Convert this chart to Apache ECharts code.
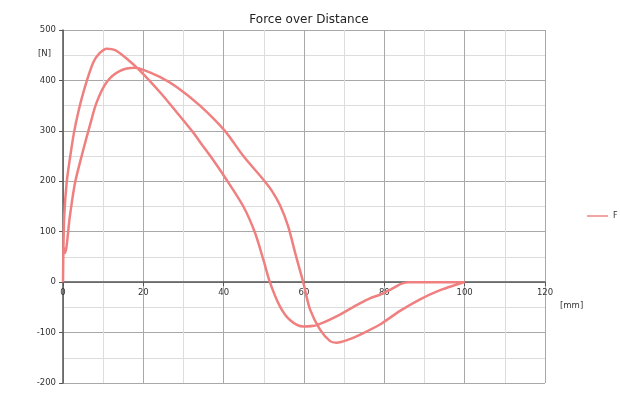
<!DOCTYPE html>
<html>
<head>
<meta charset="utf-8">
<script src="https://cdn.jsdelivr.net/npm/echarts@6/dist/echarts.min.js"></script>
<style>html,body{margin:0;padding:0;background:#fff}#c{width:620px;height:397px}</style>
</head>
<body>
<div id="c"></div>
<script>
// Distance [mm] and Force [N] along the measured loop, in path order
const distance = [0, 0.1, 0.3, 0.9, 1.7, 2.7, 3.8, 5.5, 7.5, 9, 10.9, 13, 15.9, 19.2, 24.1, 28.3, 32.4, 34.1, 36.6, 40.3, 44.9, 47.8, 49.9, 51.5, 54, 56.5, 59.8, 63.2, 68.1, 73.9, 76.4, 78.9, 82.2, 84.3, 86, 90, 95, 100,
  98, 93.9, 88.9, 83.9, 78.9, 74, 71.4, 68.1, 66.5, 64, 61.5, 59.8, 58, 56, 54, 52, 49.9, 44.9, 40.3, 34.1, 28.3, 24.1, 20, 17.9, 14.2, 10.9, 8.4, 6.7, 5.1, 3.0, 1.7, 0.5, 0.2];
const force = [0, 65, 130, 197, 244, 295, 337, 388, 435, 453, 463, 460, 443, 419, 377, 337, 297, 278, 251, 208, 150, 98, 44, 0, -48, -75, -88, -85, -68, -42, -32, -25, -12, -3, 0, 0, 0, 0,
  -5, -16, -34, -57, -84, -104, -113, -120, -117, -94, -54, 0, 52, 112, 153, 181, 203, 250, 300, 350, 387, 407, 421, 425, 419, 397, 357, 311, 264, 197, 130, 58, 68];
const xTicks = { min: 0, max: 120, step: 20 };
const yTicks = { min: -200, max: 500, step: 100 };
const seriesName = 'F';
const titleText = 'Force over Distance';
const xUnit = '[mm]';
const yUnit = '[N]';

const points = distance.map((d, i) => [d, force[i]]);
const gridTop = 30, gridBottom = 14, chartH = 397;
const plotH = chartH - gridTop - gridBottom;
const zeroOffset = -(0 - yTicks.min) / (yTicks.max - yTicks.min) * plotH;

const chart = echarts.init(document.getElementById('c'), null, { renderer: 'canvas' });
const font = 'DejaVu Sans';
chart.setOption({
  animation: false,
  backgroundColor: '#fff',
  textStyle: { fontFamily: font },
  title: {
    text: titleText, left: 304, top: 9, textAlign: 'center',
    textStyle: { fontFamily: font, fontSize: 12, fontWeight: 'normal', color: '#222' }
  },
  legend: {
    data: [{ name: seriesName, icon: 'rect' }], left: 582, top: 207, itemWidth: 21, itemHeight: 2, itemGap: 4,
    itemStyle: { color: '#f4a4a4' },
    textStyle: { fontFamily: font, fontSize: 8, color: '#333' }
  },
  grid: { left: 63, right: 75, top: gridTop, bottom: gridBottom, containLabel: false },
  xAxis: {
    type: 'value', min: xTicks.min, max: xTicks.max, interval: xTicks.step,
    position: 'bottom', offset: zeroOffset,
    axisLine: { show: true, onZero: false, lineStyle: { color: '#555', width: 1.5 } },
    axisTick: { show: true, length: 4, lineStyle: { color: '#555' } },
    axisLabel: { fontFamily: font, fontSize: 8.5, color: '#333', margin: 6 },
    splitLine: { show: true, lineStyle: { color: '#a8a8a8', width: 1 } },
    minorTick: { show: false, splitNumber: 2 },
    minorSplitLine: { show: true, lineStyle: { color: '#dcdcdc', width: 1 } }
  },
  yAxis: {
    type: 'value', min: yTicks.min, max: yTicks.max, interval: yTicks.step,
    axisLine: { show: true, onZero: false, lineStyle: { color: '#555', width: 1.5 } },
    axisTick: { show: true, length: 4, lineStyle: { color: '#555' } },
    axisLabel: { fontFamily: font, fontSize: 8.5, color: '#333', margin: 7 },
    splitLine: { show: true, lineStyle: { color: '#a8a8a8', width: 1 } },
    minorTick: { show: false, splitNumber: 2 },
    minorSplitLine: { show: true, lineStyle: { color: '#dcdcdc', width: 1 } }
  },
  graphic: [
    { type: 'text', left: 38, top: 49, style: { text: yUnit, fontFamily: font, fontSize: 8.5, fill: '#333' } },
    { type: 'text', left: 560, top: 301, style: { text: xUnit, fontFamily: font, fontSize: 8.5, fill: '#333' } }
  ],
  series: [{
    name: seriesName, type: 'line', data: points, symbol: 'none', smooth: 0.3,
    lineStyle: { color: '#f08080', width: 2.5 }, itemStyle: { color: '#f08080' }
  }]
});
</script>
</body>
</html>
